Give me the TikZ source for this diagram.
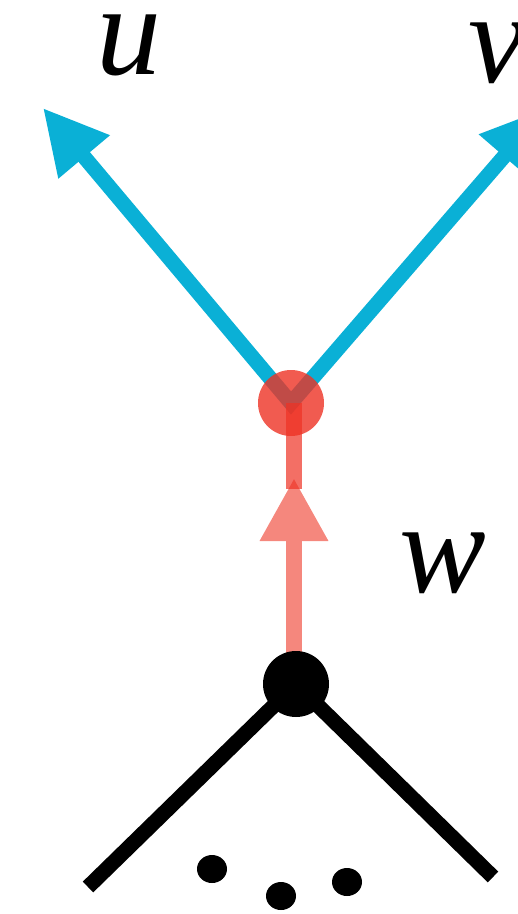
\documentclass[tikz,border=0pt]{standalone}
\usepackage{fontspec}
\setmainfont{Liberation Serif}
\usetikzlibrary{arrows.meta,shapes.geometric}
\definecolor{eblue}{RGB}{10,176,214}
\definecolor{ered}{RGB}{238,50,36}
\definecolor{esalmon}{RGB}{245,135,125}
\begin{document}
\begin{tikzpicture}[x=0.5pt,y=-0.5pt,
  blueedge/.style={draw=eblue, line width=7.5pt, line join=miter,
    {Triangle[length=32pt,width=31.5pt]}-{Triangle[length=32pt,width=31.5pt]}},
  redarrow/.style={draw=esalmon, line width=8pt, -{Triangle[length=31.5pt,width=32pt]}},
  redseg/.style={draw=ered, draw opacity=0.7, line width=8pt},
  bline/.style={draw=black, line width=7.5pt},
  rnode/.style={circle, fill=ered, fill opacity=0.8, inner sep=0pt, minimum size=33pt},
  bnode/.style={circle, fill=black, inner sep=0pt, minimum size=33pt},
  dotnode/.style={ellipse, fill=black, inner sep=0pt, minimum width=15pt, minimum height=14pt},
  lbl/.style={inner sep=0pt, text height=31pt, text depth=0pt,
    font=\fontsize{65pt}{65pt}\selectfont\itshape}]
\useasboundingbox (0,0) rectangle (518,914);
\clip (0,0) rectangle (518,914);
% positions
\coordinate (rc) at (291,403);
\coordinate (uT) at (43,108);
\coordinate (vT) at (546,108);
\coordinate (bc) at (296,684);
\coordinate (wfoot) at (294,684);
\coordinate (wtip) at (294,478);
\coordinate (wmid) at (294,489);
\coordinate (wtop) at (294,403);
\coordinate (l1) at (88,887);
\coordinate (l2) at (493,877);
% blue out-edges
\draw[blueedge] (uT) -- (rc) -- (vT);
% red in-edge
\draw[redarrow] (wfoot) -- (wtip);
\draw[redseg] (wmid) -- (wtop);
% red vertex
\node[rnode] (r) at (rc) {};
% black subtree
\draw[bline] (bc) -- (l1);
\draw[bline] (bc) -- (l2);
\node[bnode] (b) at (bc) {};
\node[dotnode] (d1) at (212,869) {};
\node[dotnode] (d2) at (281,896) {};
\node[dotnode] (d3) at (347,882) {};
% labels
\node[lbl, anchor=base] (u) at (129,75) {u};
\node[lbl, anchor=base] (v) at (497,83) {v};
\node[lbl, anchor=base] (w) at (443,592) {w};
\end{tikzpicture}
\end{document}
